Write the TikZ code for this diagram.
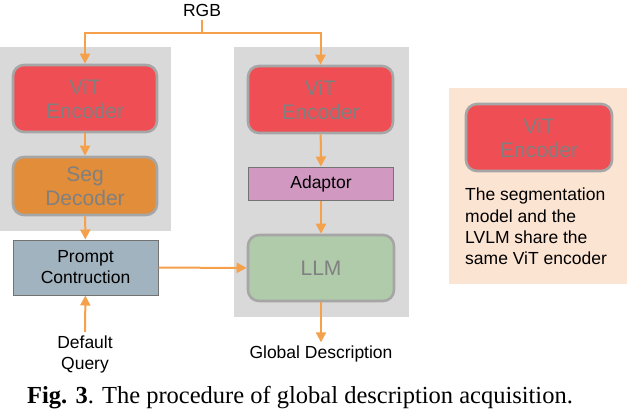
\documentclass[tikz,border=0pt]{standalone}
\usepackage{fontspec}
\setmainfont{Liberation Sans}
\newfontfamily\capfont{Liberation Serif}
\usetikzlibrary{arrows.meta}

\definecolor{flow}{HTML}{F5A04A}
\definecolor{panelgray}{HTML}{D9D9D9}
\definecolor{peach}{HTML}{FCE4D3}
\definecolor{encred}{HTML}{F04E55}
\definecolor{segorange}{HTML}{E18D3A}
\definecolor{promptblue}{HTML}{A1B3BF}
\definecolor{adaptpink}{HTML}{D199C1}
\definecolor{llmgreen}{HTML}{AFCBA9}

\begin{document}
\begin{tikzpicture}[
    x=1pt, y=-1pt,
    >={Triangle[width=10pt,length=10pt]},
    block/.style={draw=black!35, line width=2.6pt, rounded corners=11pt,
      minimum width=144pt, font=\fontsize{21}{24}\selectfont,
      text=black!50, align=center},
    flat/.style={draw=black!55, line width=1pt, minimum width=145pt,
      font=\fontsize{17.5}{21}\selectfont, align=center},
    label/.style={font=\fontsize{17.5}{21}\selectfont, align=center},
    ptr/.style={->, line width=2pt, draw=flow},
    wire/.style={line width=2pt, draw=flow},
  ]
    \useasboundingbox (0,0) rectangle (628,410);

    % panels
    \fill[panelgray] (0,47) rectangle (171,231);
    \fill[panelgray] (234,47) rectangle (409,317);
    \fill[peach] (449,88) rectangle (627,284);

    \node[label] (rgb) at (202,10) {RGB};
    \coordinate (split) at (202,33);

    % segmentation branch
    \node[block, fill=encred, minimum height=67pt] (encL) at (85,98.5)
      {ViT\\Encoder};
    \node[block, fill=segorange, minimum height=58pt] (segL) at (85,186)
      {Seg\\Decoder};
    \node[flat, fill=promptblue, minimum height=55pt] (prompt) at (85.5,267.5)
      {Prompt\\Contruction};
    \node[label] (query) at (85,354) {Default\\Query};

    % LVLM branch
    \node[block, fill=encred, minimum height=67pt, minimum width=145pt] (encR)
      at (320.5,99.5) {ViT\\Encoder};
    \node[flat, fill=adaptpink, minimum height=33pt] (adapt) at (321,183.5)
      {Adaptor};
    \node[block, fill=llmgreen, minimum height=66pt, minimum width=146pt] (llm)
      at (321,268) {LLM};
    \node[label] (desc) at (321,354) {Global Description};

    % shared encoder note
    \node[block, fill=encred, minimum height=67pt, minimum width=146pt] (encP)
      at (539,137.5) {ViT\\Encoder};
    \node[anchor=north west, align=left, inner sep=0pt,
      font=\fontsize{17.5}{21.3}\selectfont] (note) at (465,188)
      {The segmentation\\model and the\\LVLM share the\\same ViT encoder};

    \draw[wire] (rgb.south) -- (split);
    \draw[ptr] (split) -| (encL.north);
    \draw[ptr] (split) -| (encR.north);
    \draw[ptr] (encL) -- (segL);
    \draw[ptr] (segL) -- (prompt);
    \draw[ptr] (query) -- (prompt);
    \draw[ptr] (prompt) -- (llm);
    \draw[ptr] (encR) -- (adapt);
    \draw[ptr] (adapt) -- (llm);
    \draw[ptr] (llm) -- (desc);

    \node[anchor=base west, inner sep=0pt, font=\capfont\fontsize{24.5}{30}\selectfont]
      (caption) at (27,403)
      {\textbf{Fig. 3}. The procedure of global description acquisition.};
  \end{tikzpicture}
\end{document}
